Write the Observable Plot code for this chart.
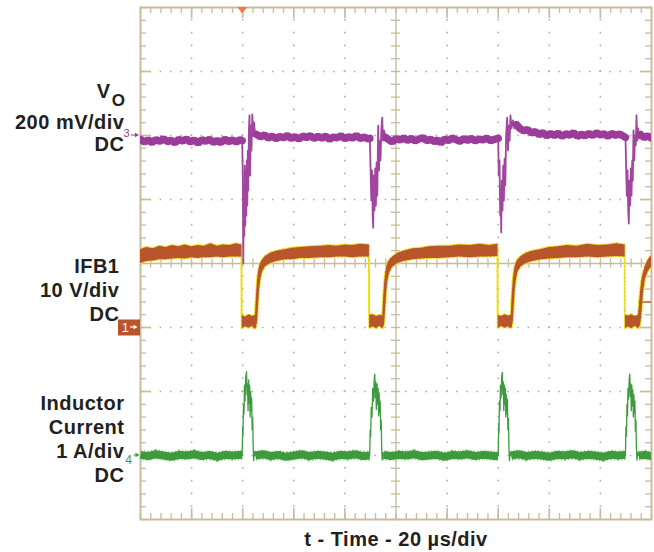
<!DOCTYPE html>
<html><head><meta charset="utf-8">
<script src="https://cdn.jsdelivr.net/npm/d3@7"></script>
<script src="https://cdn.jsdelivr.net/npm/@observablehq/plot@0.6"></script>
<style>html,body{margin:0;padding:0;background:#fff;overflow:hidden;}</style>
</head><body><div id="chart"></div>
<script>
// ---------------- data ----------------
// time axis: 0..200 µs (20 µs/div, 10 div); screen: -4..+4 div
const timeDomain = [0, 200];
const divDomain = [-4, 4];

// channel settings (ground-marker position in divisions, units per division)
const voOffset = 2,  voPerDiv = 200;   // mV
const ifbOffset = -1, ifbPerDiv = 10;  // V
const ilOffset = -3, ilPerDiv = 1;     // A

const triggerTime = 40;     // µs
const triggerLevelV = 3.9;  // V on IFB1

// labels
const voName = ["V"];
const voSub = ["O"];
const voLabel = ["200 mV/div", "DC"];
const ifbLabel = ["IFB1", "10 V/div", "DC"];
const ilLabel = ["Inductor", "Current", "1 A/div", "DC"];
const xLabel = ["t - Time - 20 µs/div"];
const channelNumbers = ["3", "1", "4"];

// Vo (mV): noisy baseline band [t µs, mV]; NaN breaks at the load steps
const voBand = [
 [0,-12],[1.5,-20],[3,-14],[4.5,-22],[6,-13],[7.5,-18],[9,-10],[10.5,-19],[12,-15],[13.5,-23],[15,-12],[16.5,-17],[18,-11],[19.5,-20],[21,-14],[22.5,-24],[24,-13],[25.5,-18],[27,-12],[28.5,-21],[30,-16],[31.5,-22],[33,-11],[34.5,-19],[36,-14],[37.5,-20],[39,-13],[39.8,-16],
 [42,NaN],
 [45.4,3],[47,-4],[48.5,2],[50,-8],[51.5,-2],[53,-10],[54.5,-3],[56,-7],[57.5,0],[59,-9],[60.5,-4],[62,-11],[63.5,-2],[65,-6],[66.5,-1],[68,-9],[69.5,-3],[71,-8],[72.5,-2],[74,-12],[75.5,-5],[77,-7],[78.5,-1],[80,-10],[81.5,-4],[83,-8],[84.5,0],[86,-9],[87.5,-5],[89,-10],[89.75,-9],
 [92,NaN],
 [95.9,-6],[97,-12],[98.5,-20],[100,-10],[101.5,-14],[103,-8],[104.5,-15],[106,-9],[107.5,-17],[109,-11],[110.5,-7],[112,-16],[113.5,-12],[115,-19],[116.5,-14],[117.5,-24],[119,-11],[120.5,-16],[122,-8],[123.5,-13],[125,-18],[126.5,-10],[128,-15],[129.5,-9],[131,-17],[132.5,-11],[134,-14],[135.5,-8],[137,-16],[138.5,-12],[140,-9],
 [144,NaN],
 [147.2,34],[148.5,22],[150,15],[151.5,18],[153,8],[154.5,12],[156,3],[157.5,9],[159,-1],[160.5,6],[162,0],[163.5,7],[165,-2],[166.5,5],[168,1],[169.5,9],[171,-3],[172.5,4],[174,-1],[175.5,6],[177,0],[178.5,8],[180,2],[181.5,5],[183,-2],[184.5,6],[186,1],[187.5,4],[188.8,-1],[189.8,-6],
 [192,NaN],
 [195.7,3],[197,-6],[198.5,-2],[200,-8]
];
// Vo transient spikes at each load step [t µs, mV]
const voDip1 = [[39.8,-16],[40.04,-125],[40.23,-400],[40.43,-172],[40.63,-313],[40.82,-94],[41.02,-281],[41.21,-109],[41.41,-250],[41.6,-78],[41.8,-219],[42.0,-47],[42.19,-172],[42.43,16],[42.66,63],[42.9,-125],[43.17,31],[43.44,-47],[43.76,66],[44.07,0],[44.42,41],[44.81,9],[45.4,3]];
const voDip2 = [[89.75,-9],[90.02,-94],[90.33,-203],[90.61,-109],[90.88,-250],[91.08,-288],[91.31,-125],[91.59,-234],[91.86,-103],[92.13,-219],[92.41,-84],[92.68,-188],[93.03,31],[93.35,-109],[93.66,-16],[93.93,-78],[94.25,16],[94.6,56],[94.91,-16],[95.3,16],[95.9,-6]];
const voDip3 = [[140.0,-9],[140.23,-125],[140.51,-78],[140.78,-250],[141.02,-172],[141.17,-303],[141.41,-141],[141.68,-234],[141.96,-94],[142.23,-203],[142.5,-72],[142.78,-156],[143.09,0],[143.52,56],[143.84,-47],[144.15,31],[144.46,-16],[144.81,63],[145.21,22],[145.79,47],[146.38,22],[147.2,34]];
const voDip4 = [[189.82,-6],[190.06,-94],[190.33,-188],[190.61,-109],[190.88,-234],[191.12,-275],[191.35,-141],[191.62,-219],[191.9,-103],[192.17,-188],[192.45,-78],[192.68,-141],[192.95,16],[193.27,-78],[193.54,0],[193.82,-31],[194.13,63],[194.44,-16],[194.75,22],[195.11,-9],[195.7,3]];

// IFB1 (V): noisy envelope [t µs, low V, high V]
const ifbBand = [
 [0,10.0,12.2],[2.5,10.3,12.5],[5,10.4,12.3],[7.5,10.6,12.7],[10,10.6,12.5],[12.5,10.7,12.8],[15,10.8,12.6],[17.5,10.7,12.9],[20,10.9,12.6],[22.5,10.8,12.8],[25,10.9,12.7],[27.5,10.9,13.1],[30,11.0,12.7],[32.5,10.9,12.9],[35,11.0,12.8],[37.5,11.0,13.1],[39.7,11.0,12.9],
 [39.8,-0.2,1.9],[41,0.1,1.6],[42.5,-0.1,2.0],[43.8,0.2,1.7],[45.0,-0.3,1.9],[45.4,0.0,5.0],[45.8,0.8,7.3],[46.2,3.4,8.75],[46.6,5.8,9.5],[47.0,7.3,10.0],[47.7,8.6,10.5],[48.9,9.5,11.1],[50.9,10.0,11.6],[53.2,10.3,11.9],[56.8,10.6,12.2],[59.5,10.6,12.4],[62.6,10.8,12.5],[66,10.8,12.6],[70.5,10.9,12.7],[74,10.9,12.8],[77,11.0,12.7],[80.2,11.0,12.9],[83,10.9,12.8],[86,11.0,13.0],[89.6,11.0,12.9],
 [89.7,-0.2,1.9],[91,0.1,2.0],[92.4,-0.2,1.7],[93.6,0.2,1.9],[94.8,-0.2,1.8],[95.2,0.0,4.8],[95.6,0.7,7.2],[96.0,3.2,8.6],[96.4,5.6,9.4],[96.8,7.2,10.0],[97.5,8.5,10.5],[98.7,9.4,11.0],[100.7,10.0,11.6],[103,10.3,11.9],[106.6,10.6,12.3],[110,10.7,12.4],[113,10.8,12.6],[117,10.8,12.7],[121,10.9,12.7],[125,11.0,12.9],[129,10.9,12.8],[133,11.0,13.0],[136.5,11.0,12.8],[139.9,11.1,13.0],
 [140.0,-0.2,1.9],[141.3,0.2,1.7],[142.6,-0.1,2.0],[144,0.1,1.8],[145.1,-0.2,1.9],[145.5,0.0,5.2],[145.9,0.9,7.4],[146.3,3.5,8.8],[146.7,5.9,9.6],[147.1,7.4,10.1],[147.8,8.7,10.6],[149,9.5,11.1],[151,10.0,11.6],[153.3,10.3,11.9],[157,10.6,12.2],[160,10.7,12.5],[163.5,10.8,12.6],[167,10.9,12.8],[171,10.9,12.7],[175,11.0,13.0],[179,10.9,12.8],[183,11.0,12.9],[186.5,11.1,13.1],[189.7,11.0,12.9],
 [189.8,-0.2,1.9],[191,0.1,1.8],[192.3,-0.2,2.0],[193.6,0.2,1.7],[194.9,-0.2,1.9],[195.3,0.0,3.5],[195.7,0.3,5.5],[196.1,1.5,7.0],[196.5,3.5,8.0],[196.9,5.5,8.6],[197.6,7.5,9.6],[198.8,8.8,10.6],[200,9.4,11.2]
];

// Inductor current (A): baseline [t µs, A], NaN breaks under the pulses
const ilBase = [
 [0,0.01],[3,-0.01],[6,0.02],[9,0],[12,-0.02],[15,0.01],[18,0],[21,0.02],[24,-0.01],[27,0.01],[30,-0.02],[33,0.01],[36,0],[39.8,0.01],
 [42,NaN],
 [45.0,0],[48,0.02],[51,-0.01],[54,0.01],[57,-0.02],[60,0],[63,0.02],[66,-0.01],[69,0.01],[72,0],[75,-0.02],[78,0.01],[81,0],[84,0.02],[87,-0.01],[89.7,0],
 [92,NaN],
 [95.2,0.01],[98,-0.01],[101,0.01],[104,0],[107,0.02],[110,-0.01],[113,0],[116,0.01],[119,-0.02],[122,0.01],[125,0],[128,0.02],[131,-0.01],[134,0.01],[137,0],[140.0,-0.01],
 [142,NaN],
 [145.1,0],[148,0.02],[151,-0.01],[154,0.01],[157,0],[160,-0.02],[163,0.01],[166,0],[169,0.02],[172,-0.01],[175,0.01],[178,0],[181,-0.02],[184,0.01],[187,0],[189.8,0.01],
 [192,NaN],
 [195.0,0],[197.5,0.01],[200,-0.01]
];
// current pulses [t µs, A]
const ilPulse1 = [[39.8,0],[40.0,0.45],[40.1,0.3],[40.3,0.8],[40.5,0.65],[40.7,1.1],[40.9,0.85],[41.2,1.22],[41.5,1.31],[41.7,0.95],[41.9,1.12],[42.1,0.7],[42.3,1.18],[42.5,0.82],[42.7,1.1],[42.9,0.6],[43.1,1.0],[43.3,0.7],[43.5,0.9],[43.7,0.4],[43.9,0.6],[44.1,0.15],[44.3,-0.08],[44.6,0.06],[45.0,0]];
const ilPulse2 = [[89.7,0],[89.9,0.4],[90.1,0.3],[90.3,0.75],[90.6,0.6],[90.9,1.05],[91.2,0.85],[91.5,1.2],[91.7,1.27],[91.9,0.9],[92.1,1.15],[92.3,0.72],[92.6,1.12],[92.8,0.8],[93.0,1.05],[93.2,0.62],[93.4,0.98],[93.6,0.68],[93.8,0.85],[94.0,0.4],[94.2,0.55],[94.4,0.12],[94.6,-0.07],[94.9,0.05],[95.2,0]];
const ilPulse3 = [[140.0,0],[140.2,0.5],[140.3,0.35],[140.5,0.85],[140.7,0.7],[140.9,1.1],[141.1,0.9],[141.4,1.24],[141.6,1.30],[141.8,0.95],[142.0,1.15],[142.2,0.7],[142.4,1.1],[142.6,0.8],[142.8,1.05],[143.0,0.6],[143.2,0.95],[143.4,0.65],[143.6,0.88],[143.8,0.4],[144.0,0.58],[144.2,0.14],[144.4,-0.08],[144.7,0.05],[145.1,0]];
const ilPulse4 = [[189.8,0],[190.0,0.45],[190.2,0.3],[190.4,0.8],[190.6,0.62],[190.8,1.05],[191.0,0.88],[191.3,1.2],[191.5,1.27],[191.7,0.92],[191.9,1.12],[192.1,0.7],[192.3,1.1],[192.5,0.78],[192.7,1.02],[192.9,0.6],[193.1,0.95],[193.3,0.66],[193.5,0.85],[193.7,0.38],[193.9,0.55],[194.1,0.12],[194.3,-0.07],[194.6,0.05],[195.0,0]];

// ---------------- styles ----------------
const purple = "#9c3c9a", brown = "#b8552c", yellow = "#eee21c", green = "#3e9a3e", lightGreen = "#93cf72";
const gridColor = "#c8bc9b", dotColor = "#bcae8a", ink = "#231f20", orange = "#f47a3f";
const font = "'Liberation Sans', Arial, Helvetica, sans-serif";

const minorT = d3.range(0, 200.001, 4);
const divT = [20, 40, 60, 80, 120, 140, 160, 180];
const minorY = d3.range(-4, 4.001, 0.2);
const divY = [-3, -2, -1, 1, 2, 3];

const vo = d => voOffset + d[1] / voPerDiv;
const ifbLo = d => ifbOffset + d[1] / ifbPerDiv;
const ifbHi = d => ifbOffset + d[2] / ifbPerDiv;
const il = d => ilOffset + d[1] / ilPerDiv;
const tx = d => d[0];

const labelStyle = {frameAnchor: "left", textAnchor: "end", lineAnchor: "bottom", fontSize: 20, fontWeight: "bold", fontFamily: font, fill: ink, text: d => d};

const plot = Plot.plot({
  width: 654, height: 552,
  marginLeft: 140, marginRight: 3, marginTop: 7, marginBottom: 33,
  x: {domain: timeDomain, axis: null},
  y: {domain: divDomain, axis: null},
  style: "background:#fff;font-family:'Liberation Sans',Arial,sans-serif;letter-spacing:0.5px;",
  marks: [
    // dotted division grid
    Plot.ruleX(divT, {stroke: dotColor, strokeWidth: 1.6, strokeDasharray: "1.6 11.2", strokeDashoffset: 0.8}),
    Plot.ruleY(divY, {stroke: dotColor, strokeWidth: 1.6, strokeDasharray: "1.6 8.62", strokeDashoffset: 0.8}),
    // centre cross with minor ticks
    Plot.ruleX([100], {stroke: gridColor, strokeWidth: 1.4}),
    Plot.ruleY([0], {stroke: gridColor, strokeWidth: 1.4}),
    Plot.ruleX(minorT, {y1: 0, y2: 0, insetTop: -4.5, insetBottom: -4.5, stroke: gridColor, strokeWidth: 1.3}),
    Plot.ruleY(minorY, {x1: 100, x2: 100, insetLeft: -4.5, insetRight: -4.5, stroke: gridColor, strokeWidth: 1.3}),
    // border ticks
    Plot.ruleX(minorT, {insetBottom: 506, stroke: gridColor, strokeWidth: 1.3}),
    Plot.ruleX(minorT, {insetTop: 506, stroke: gridColor, strokeWidth: 1.3}),
    Plot.ruleY(minorY, {insetRight: 505, stroke: gridColor, strokeWidth: 1.3}),
    Plot.ruleY(minorY, {insetLeft: 505, stroke: gridColor, strokeWidth: 1.3}),
    Plot.ruleX(divT, {insetBottom: 501, stroke: gridColor, strokeWidth: 1.6}),
    Plot.ruleX(divT, {insetTop: 501, stroke: gridColor, strokeWidth: 1.6}),
    Plot.ruleY(divY, {insetRight: 500, stroke: gridColor, strokeWidth: 1.6}),
    Plot.ruleY(divY, {insetLeft: 500, stroke: gridColor, strokeWidth: 1.6}),
    Plot.frame({stroke: gridColor, strokeWidth: 2}),

    // IFB1 trace (yellow speckled edge under a brown band)
    Plot.areaY(ifbBand, {x: tx, y1: ifbLo, y2: ifbHi, fill: "none", stroke: yellow, strokeWidth: 2.2, strokeDasharray: "1.3 2.4", clip: true}),
    Plot.areaY(ifbBand, {x: tx, y1: ifbLo, y2: ifbHi, fill: brown, clip: true}),

    // Vo trace
    Plot.line(voBand, {x: tx, y: vo, stroke: purple, strokeWidth: 7.5, strokeLinejoin: "miter", clip: true}),
    ...[voDip1, voDip2, voDip3, voDip4].map(dip =>
      Plot.line(dip, {x: tx, y: vo, stroke: purple, strokeWidth: 1.8, strokeOpacity: 0.95, clip: true})),

    // Inductor current trace
    Plot.line(ilBase, {x: tx, y: il, stroke: lightGreen, strokeWidth: 10.5, strokeDasharray: "1 2", strokeLinecap: "butt", clip: true}),
    Plot.line(ilBase, {x: tx, y: il, stroke: green, strokeWidth: 8, strokeLinecap: "butt", clip: true}),
    ...[ilPulse1, ilPulse2, ilPulse3, ilPulse4].map(p =>
      Plot.line(p, {x: tx, y: il, stroke: green, strokeWidth: 1.3, clip: true})),

    // channel labels
    Plot.text(voName, {...labelStyle, y: voOffset, dx: -30, dy: -38}),
    Plot.text(voSub, {...labelStyle, fontSize: 17, y: voOffset, dx: -15, dy: -29.5}),
    Plot.text([voLabel.join("\n")], {...labelStyle, y: voOffset, dx: -16, dy: 15, lineHeight: 1.1}),
    Plot.text([ifbLabel.join("\n")], {...labelStyle, y: ifbOffset, dx: -21, dy: -7, lineHeight: 1.2}),
    Plot.text([ilLabel.join("\n")], {...labelStyle, y: ilOffset, dx: -16, dy: 26, lineHeight: 1.2}),
    // x label
    Plot.text(xLabel, {frameAnchor: "bottom", dy: 26, lineAnchor: "bottom", fontSize: 20, fontWeight: "bold", fontFamily: font, fill: ink, text: d => d})
  ]
});

// ---- scope chrome: channel markers and trigger markers ----
const svg = d3.select(plot);
const ys = plot.scale("y"), xs = plot.scale("x");
const frameL = xs.apply(timeDomain[0]), frameR = xs.apply(timeDomain[1]);
const frameTop = ys.apply(divDomain[1]);
const g = svg.append("g").attr("font-family", font).style("letter-spacing", "0");
function arrow(x1, x2, y, color, w) {
  const dir = Math.sign(x2 - x1);
  g.append("line").attr("x1", x1).attr("x2", x2 - dir * 3).attr("y1", y).attr("y2", y)
    .attr("stroke", color).attr("stroke-width", w);
  g.append("path").attr("d", `M${x2},${y}L${x2 - dir * 4},${y - 2.3}L${x2 - dir * 4},${y + 2.3}Z`).attr("fill", color);
}
// CH3 (Vo)
const yc3 = ys.apply(voOffset);
g.append("text").attr("x", frameL - 10.5).attr("y", yc3 + 2).attr("text-anchor", "end").attr("font-size", 11).attr("fill", purple).text(channelNumbers[0]);
arrow(frameL - 9, frameL - 1, yc3, purple, 1);
// CH1 (IFB1)
const yc1 = ys.apply(ifbOffset);
g.append("rect").attr("x", frameL - 22).attr("y", yc1 - 7.5).attr("width", 22).attr("height", 16).attr("fill", brown);
g.append("text").attr("x", frameL - 11).attr("y", yc1 + 5).attr("text-anchor", "end").attr("font-size", 13).attr("fill", "#fff").text(channelNumbers[1]);
arrow(frameL - 10, frameL - 2.5, yc1, "#fff", 1.2);
// CH4 (inductor current)
const yc4 = ys.apply(ilOffset);
g.append("text").attr("x", frameL - 8).attr("y", yc4 + 9).attr("text-anchor", "end").attr("font-size", 12).attr("fill", green).text(channelNumbers[2]);
arrow(frameL - 6.5, frameL - 0.5, yc4, green, 1);
// trigger position (top) and trigger level (right)
const xt = xs.apply(triggerTime);
g.append("path").attr("d", `M${xt - 5},${frameTop}L${xt + 5},${frameTop}L${xt},${frameTop + 6.5}Z`).attr("fill", orange);
arrow(frameR, frameR - 13, ys.apply(ifbOffset + triggerLevelV / ifbPerDiv), brown, 1.3);

document.getElementById("chart").append(plot);
</script></body></html>
